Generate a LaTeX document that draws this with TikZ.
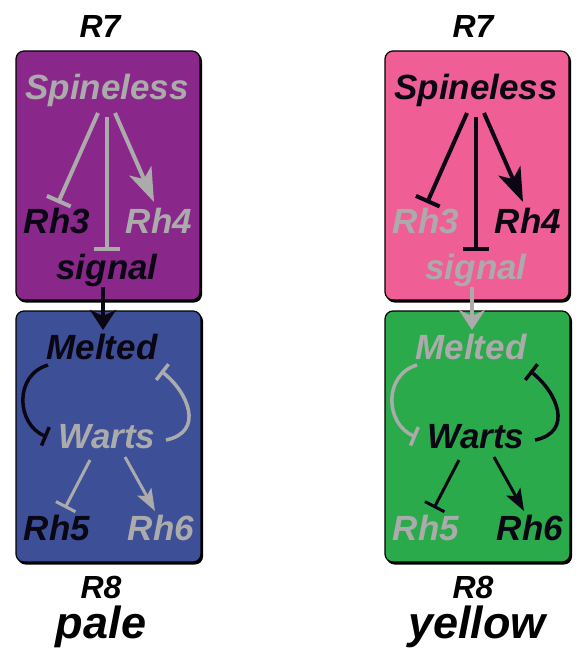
\documentclass[tikz,border=0pt]{standalone}
\usepackage{fontspec}
\setmainfont{Liberation Sans}
\usetikzlibrary{arrows.meta}
\definecolor{grey}{HTML}{ABABAB}
\definecolor{ink}{HTML}{0A0614}
\definecolor{purp}{HTML}{8A278B}
\definecolor{blu}{HTML}{3D4F97}
\definecolor{pnk}{HTML}{F05E96}
\definecolor{grn}{HTML}{2AAA4A}
\tikzset{
 txt/.style={anchor=base, inner sep=0pt, font=\fontsize{35}{35}\selectfont\bfseries\itshape},
 lbl/.style={anchor=base, inner sep=0pt, font=\fontsize{32}{32}\selectfont\bfseries\itshape},
 big/.style={anchor=base, inner sep=0pt, font=\fontsize{45}{45}\selectfont\bfseries\itshape},
 cell/.style={rounded corners=8pt, draw=black, line width=1.2pt},
 cellshadow/.style={rounded corners=8pt, fill=black},
 act/.style={line width=4pt, -{Stealth[length=34pt,width=24pt,inset=9pt]}},
 actsmall/.style={line width=3pt, -{Stealth[length=22pt,width=16pt,inset=5pt]}},
 actmid/.style={line width=4pt, -{Stealth[length=20pt,width=26pt,inset=6pt]}},
 inh/.style={line width=4pt, -{Bar[width=26pt]}},
 inhsmall/.style={line width=3pt, -{Bar[width=22pt]}},
 inhcurve/.style={line width=3.5pt, -{Bar[width=20pt]}},
}
\newcommand\drawpanel[1]{%
 \fill[cellshadow] (17.5,53) rectangle (202,302.5);
 \draw[cell, fill=cTop] (16,51) rectangle (200,300);
 \fill[cellshadow] (17.5,313) rectangle (203,564.5);
 \draw[cell, fill=cBot] (16,311) rectangle (201,562);
 \node[txt, text=cSp] (#1sp) at (107,100) {Spineless};
 \node[txt, text=cRhA] (#1rhA) at (57,233) {Rh3};
 \node[txt, text=cRhB] (#1rhB) at (159,233) {Rh4};
 \node[txt, text=cSig] (#1sig) at (107,279) {signal};
 \node[txt, text=cMel] (#1mel) at (102,359) {Melted};
 \node[txt, text=cWar] (#1war) at (107,448) {Warts};
 \node[txt, text=cRhC] (#1rhC) at (57,540) {Rh5};
 \node[txt, text=cRhD] (#1rhD) at (161,540) {Rh6};
 \coordinate (#1s1) at (98,113);  \coordinate (#1e1) at (58,203);
 \coordinate (#1s2) at (107,117); \coordinate (#1e2) at (107,251);
 \coordinate (#1s3) at (115,113); \coordinate (#1e3) at (154,202);
 \coordinate (#1s4) at (103,287); \coordinate (#1e4) at (103,330);
 \coordinate (#1s5) at (48,365);  \coordinate (#1e5) at (47,437);
 \coordinate (#1s6) at (166,440); \coordinate (#1e6) at (161,371);
 \coordinate (#1s7) at (90,460);  \coordinate (#1e7) at (65,508);
 \coordinate (#1s8) at (125,457); \coordinate (#1e8) at (155,511);
 \draw[inh, cSp] (#1s1) -- (#1e1);
 \draw[inh, cSp] (#1s2) -- (#1e2);
 \draw[act, cSp] (#1s3) -- (#1e3);
 \draw[actmid, cSig] (#1s4) -- (#1e4);
 \draw[inhcurve, cMel] (#1s5) .. controls (14,375) and (16,424) .. (#1e5);
 \draw[inhcurve, cWar] (#1s6) .. controls (205,432) and (188,392) .. (#1e6);
 \draw[inhsmall, cWar] (#1s7) -- (#1e7);
 \draw[actsmall, cWar] (#1s8) -- (#1e8);
}
\begin{document}
\begin{tikzpicture}[x=1pt, y=-1pt]
 \useasboundingbox (0,0) rectangle (585,663);
 % left panel: pale
 \colorlet{cTop}{purp}\colorlet{cBot}{blu}
 \colorlet{cSp}{grey}\colorlet{cRhA}{ink}\colorlet{cRhB}{grey}\colorlet{cSig}{ink}
 \colorlet{cMel}{ink}\colorlet{cWar}{grey}\colorlet{cRhC}{ink}\colorlet{cRhD}{grey}
 \begin{scope}
  \drawpanel{L}
 \end{scope}
 % right panel: yellow
 \colorlet{cTop}{pnk}\colorlet{cBot}{grn}
 \colorlet{cSp}{ink}\colorlet{cRhA}{grey}\colorlet{cRhB}{ink}\colorlet{cSig}{grey}
 \colorlet{cMel}{grey}\colorlet{cWar}{ink}\colorlet{cRhC}{grey}\colorlet{cRhD}{ink}
 \begin{scope}[xshift=369pt]
  \drawpanel{R}
 \end{scope}
 \node[lbl] (r7L) at (100,38) {R7};
 \node[lbl] (r7R) at (473,38) {R7};
 \node[lbl] (r8L) at (101,598) {R8};
 \node[lbl] (r8R) at (473,598) {R8};
 \node[big] (pale) at (101,638) {pale};
 \node[big] (yellow) at (477,638) {yellow};
\end{tikzpicture}
\end{document}
